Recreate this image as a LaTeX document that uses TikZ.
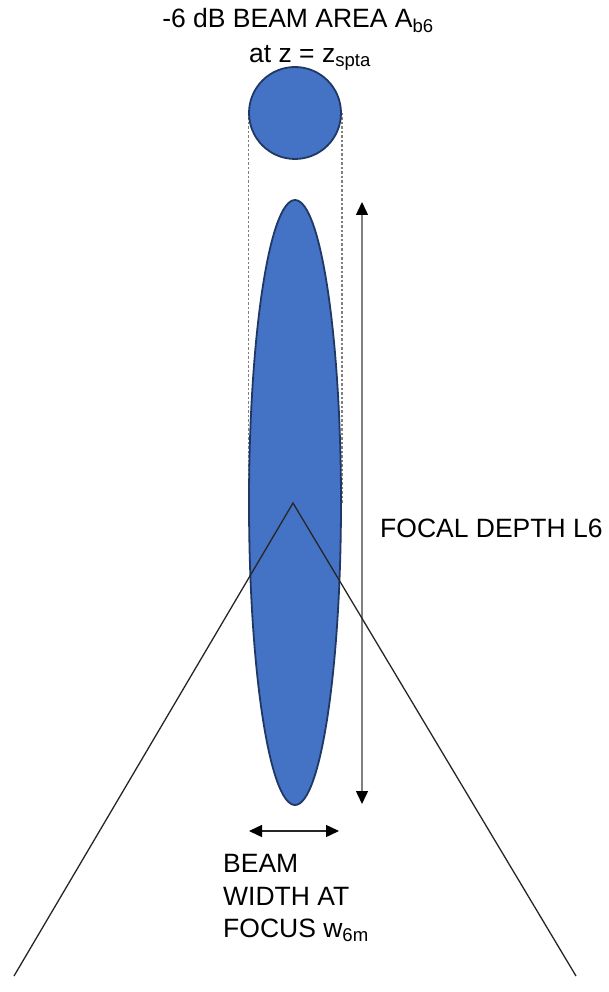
\documentclass[tikz,border=0pt]{standalone}
\usepackage{fontspec}
\setmainfont{Liberation Sans}
\usetikzlibrary{arrows.meta,shapes.geometric,backgrounds}
\definecolor{beamblue}{HTML}{4472C4}
\definecolor{beamedge}{HTML}{1F3864}
\begin{document}
\begin{tikzpicture}[x=1pt,y=-1pt,
  lbl/.style={font=\fontsize{26.5}{32.5}\selectfont, inner sep=0pt},
  blob/.style={fill=beamblue, draw=beamedge, line width=1.8pt, inner sep=0pt},
  guide/.style={draw=gray, line width=1.2pt, dash pattern=on 2.5pt off 2pt},
  dimarrow/.style={line width=1.4pt,
    {Triangle[length=13pt,width=12pt,color=black]}-{Triangle[length=13pt,width=12pt,color=black]}},
  ray/.style={draw=black!85, line width=1.3pt}]
\useasboundingbox (0,0) rectangle (609,992);

% shapes
\node[blob, circle, minimum size=92pt] (spot) at (295,113) {};
\node[blob, ellipse, minimum width=92pt, minimum height=605pt] (focal) at (295,502.5) {};

% dashed guides behind
\begin{scope}[on background layer]
  \draw[guide] (spot.west) -- (focal.west);
  \draw[guide] (spot.east) -- (focal.east);
\end{scope}

% titles
\node[lbl, anchor=base] (t1) at (298,28) {-6 dB BEAM AREA A\textsubscript{b6}};
\node[lbl, anchor=base] (t2) at (310,63) {at z = z\textsubscript{spta}};

% focal depth arrow
\coordinate (ft) at (362,202);
\coordinate (fb) at (362,804);
\draw[dimarrow, draw=gray] (ft) -- (fb);
\node[lbl, anchor=base west] (fd) at (380,537) {FOCAL DEPTH L6};

% beam width arrow
\coordinate (wl) at (249,831);
\coordinate (wr) at (339,831);
\draw[dimarrow, draw=black!85] (wl) -- (wr);
\node[lbl, anchor=base west] (bw1) at (223,872) {BEAM};
\node[lbl, anchor=base west] (bw2) at (223,905) {WIDTH AT};
\node[lbl, anchor=base west] (bw3) at (223,937) {FOCUS w\textsubscript{6m}};

% rays
\coordinate (apex) at (293,503);
\coordinate (rl) at (14,976);
\coordinate (rr) at (576,976);
\draw[ray] (rl) -- (apex) -- (rr);
\end{tikzpicture}
\end{document}
